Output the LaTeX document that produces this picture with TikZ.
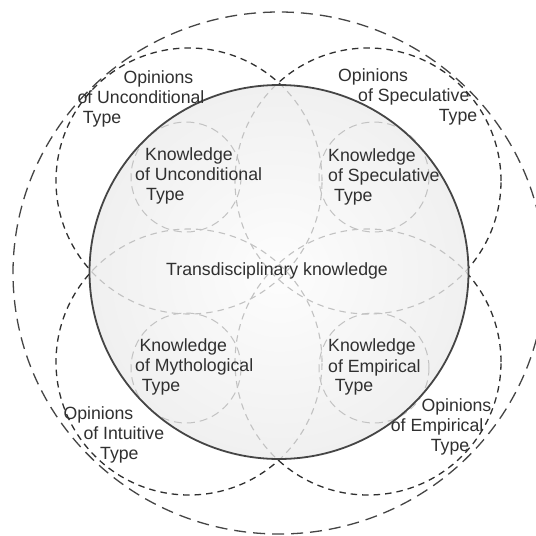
\documentclass[tikz,border=0pt]{standalone}
\usepackage{fontspec}
\setmainfont{Liberation Sans}
\definecolor{ink}{HTML}{303030}
\definecolor{rim}{HTML}{454545}
\definecolor{faint}{HTML}{C2C2C2}
\definecolor{fillin}{HTML}{FDFDFD}
\definecolor{fillout}{HTML}{F0F0F0}
\tikzset{
  outerring/.style={draw=rim, line width=1.3pt, dash pattern=on 12pt off 7pt},
  opinionring/.style={draw=ink, line width=1.3pt, dash pattern=on 6.5pt off 5pt},
  innerarc/.style={draw=faint, line width=1.1pt, dash pattern=on 6.5pt off 5pt},
  knowring/.style={draw=faint, line width=1pt, dash pattern=on 8pt off 5pt},
  mainring/.style={draw=rim, line width=1.8pt},
  txt/.style={anchor=base west, inner sep=0pt, text=ink, font=\fontsize{17.7}{20}\selectfont},
}
\begin{document}
\begin{tikzpicture}[x=1pt,y=-1pt]
\useasboundingbox (0,0) rectangle (536,536);
\fill[white] (0,0) rectangle (536,536);

% centres
\coordinate (C) at (279,272);
\coordinate (O) at (279,273);
\coordinate (oUL) at (189,181);
\coordinate (oUR) at (368,181);
\coordinate (oLL) at (189,362);
\coordinate (oLR) at (368,362);
\coordinate (kUL) at (186,177);
\coordinate (kUR) at (374,177);
\coordinate (kLL) at (186,368);
\coordinate (kLR) at (374,368);

% outer boundary and the four opinion circles
\draw[outerring] (O) ellipse [x radius=266pt, y radius=261pt];
\foreach \c in {oUL,oUR,oLL,oLR}
  \draw[opinionring] (\c) circle [radius=133pt];

% transdisciplinary disc
\shade[inner color=fillin, outer color=fillout] (C) ellipse [x radius=189.5pt, y radius=187pt];
\begin{scope}
  \clip (C) ellipse [x radius=189.5pt, y radius=187pt];
  \foreach \c in {oUL,oUR,oLL,oLR}
    \draw[innerarc] (\c) circle [radius=133pt];
\end{scope}
\foreach \c in {kUL,kUR,kLL,kLR}
  \draw[knowring] (\c) circle [radius=55pt];
\draw[mainring] (C) ellipse [x radius=189.5pt, y radius=187pt];

% opinions
\node[txt] (ou1) at (123.3,83.3) {Opinions};
\node[txt] (ou2) at (77.3,103.3) {of Unconditional};
\node[txt] (ou3) at (82.7,123.3) {Type};
\node[txt] (os1) at (338,81.7) {Opinions};
\node[txt] (os2) at (358,101.7) {of Speculative};
\node[txt] (os3) at (438.7,121.7) {Type};
\node[txt] (oi1) at (63.3,419.7) {Opinions};
\node[txt] (oi2) at (83.3,439.7) {of Intuitive};
\node[txt] (oi3) at (100,459.7) {Type};
\node[txt] (oe1) at (421.3,411.3) {Opinions};
\node[txt] (oe2) at (390.7,431.3) {of Empirical};
\node[txt] (oe3) at (430.7,451.3) {Type};

% knowledge
\node[txt] (ku1) at (145,160) {Knowledge};
\node[txt] (ku2) at (135,180) {of Unconditional};
\node[txt] (ku3) at (146,200) {Type};
\node[txt] (ks1) at (328,161.7) {Knowledge};
\node[txt] (ks2) at (328,181.7) {of Speculative};
\node[txt] (ks3) at (334,201.7) {Type};
\node[txt] (km1) at (139.3,351.3) {Knowledge};
\node[txt] (km2) at (135,371.3) {of Mythological};
\node[txt] (km3) at (141.7,391.3) {Type};
\node[txt] (ke1) at (328,351.3) {Knowledge};
\node[txt] (ke2) at (328,372) {of Empirical};
\node[txt] (ke3) at (334.7,391.3) {Type};

\node[txt] (td) at (166,275) {Transdisciplinary knowledge};
\end{tikzpicture}
\end{document}
